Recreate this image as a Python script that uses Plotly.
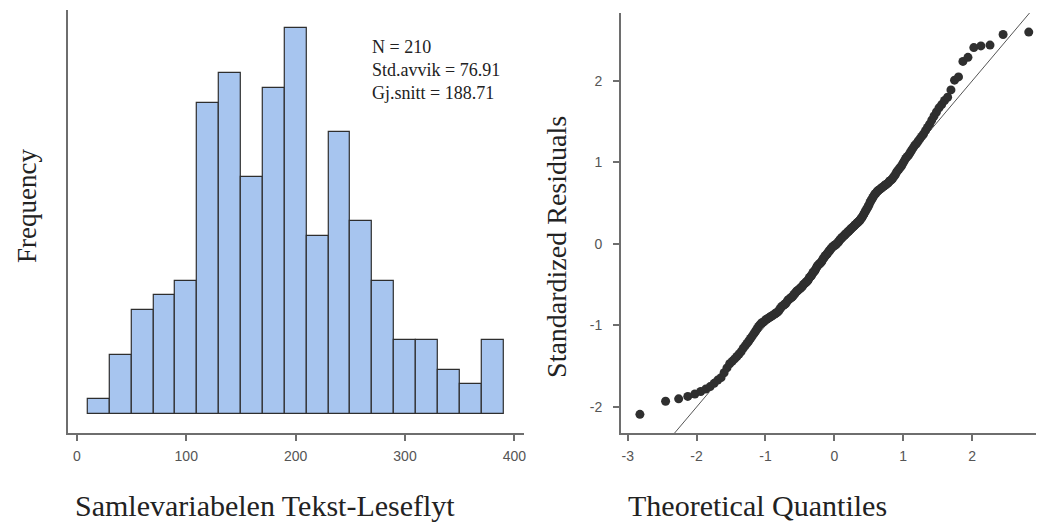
import plotly.graph_objects as go
from statistics import NormalDist

# ---------------- data ----------------
# Histogram of "Samlevariabelen Tekst-Leseflyt" (bins of width 20, from 10 to 390)
bin_centers = [20, 40, 60, 80, 100, 120, 140, 160, 180, 200, 220, 240, 260, 280, 300, 320, 340, 360, 380]
bin_counts = [1, 4, 7, 8, 9, 21, 23, 16, 22, 26, 12, 19, 13, 9, 5, 5, 3, 2, 5]
bin_width = 20
hist_ticks = [0, 100, 200, 300, 400]
hist_ticklabels = ["0", "100", "200", "300", "400"]
stats_lines = ["N = 210", "Std.avvik = 76.91", "Gj.snitt = 188.71"]

# Sorted standardized residuals
residuals = [
    -2.09, -1.93, -1.90, -1.87, -1.84, -1.81, -1.78, -1.75, -1.71, -1.67,
    -1.64, -1.58, -1.52, -1.47, -1.44, -1.41, -1.38, -1.35, -1.32, -1.28,
    -1.25, -1.22, -1.19, -1.16, -1.13, -1.10, -1.07, -1.04, -1.01, -0.99,
    -0.97, -0.96, -0.95, -0.93, -0.92, -0.91, -0.90, -0.89, -0.88, -0.87,
    -0.86, -0.85, -0.84, -0.83, -0.81, -0.79, -0.77, -0.76, -0.75, -0.74,
    -0.73, -0.71, -0.69, -0.68, -0.67, -0.66, -0.65, -0.64, -0.62, -0.61,
    -0.59, -0.58, -0.57, -0.56, -0.55,
    -0.54, -0.53, -0.52, -0.50, -0.49, -0.48, -0.47, -0.46, -0.45, -0.43,
    -0.41, -0.40, -0.39, -0.37, -0.35, -0.34, -0.33, -0.31, -0.29, -0.27,
    -0.26, -0.25, -0.24, -0.23, -0.22, -0.20, -0.18, -0.17, -0.15, -0.14,
    -0.13, -0.12, -0.10, -0.09, -0.08, -0.06, -0.05, -0.04, -0.03, -0.02,
    -0.02, -0.01, 0.00, 0.01, 0.02, 0.03, 0.05, 0.06, 0.07, 0.08,
    0.09, 0.10, 0.11, 0.12, 0.13, 0.14, 0.15, 0.16, 0.17, 0.18,
    0.19, 0.20, 0.21, 0.22, 0.23, 0.24, 0.25, 0.26, 0.27, 0.28,
    0.29, 0.31, 0.32, 0.34, 0.36, 0.38, 0.40, 0.42, 0.44, 0.46,
    0.48, 0.51, 0.53, 0.55, 0.57, 0.59, 0.61, 0.62, 0.64, 0.65,
    0.66, 0.67, 0.68, 0.69, 0.70, 0.71, 0.72, 0.73, 0.74, 0.75,
    0.77, 0.78, 0.79, 0.81, 0.83, 0.85, 0.88, 0.90, 0.92, 0.94,
    0.96, 0.99, 1.02, 1.05, 1.07, 1.09, 1.12, 1.15, 1.18, 1.21,
    1.23, 1.26, 1.29, 1.32, 1.35, 1.39, 1.43, 1.47, 1.52, 1.57,
    1.62, 1.67, 1.71, 1.76, 1.80, 1.89, 2.01, 2.05, 2.24, 2.29,
    2.41, 2.43, 2.44, 2.57, 2.60,
]
qq_ticks = [-3, -2, -1, 0, 1, 2, 3]
qq_ticklabels = ["-3", "-2", "-1", "0", "1", "2", "3"]
res_ticks = [-2, -1, 0, 1, 2]
res_ticklabels = ["-2", "-1", "0", "1", "2"]
ref_slope = 1.0
ref_intercept = 0.0

# theoretical normal quantiles for the sorted residuals
n = len(residuals)
theo_q = [NormalDist().inv_cdf((i - 0.5) / n) for i in range(1, n + 1)]

# ---------------- figure ----------------
# the page body has an 8px margin, so the figure is 8px smaller than the window
OFF = 8
W, H = 1044 - OFF, 525 - OFF


def px(x):
    return (x - OFF) / W


def py(y):
    return 1 - (y - OFF) / H


SERIF = "Liberation Serif, Times New Roman, serif"
SANS = "Liberation Sans, Arial, sans-serif"
AXIS_COL = "#6e6e6e"
TICK_FONT = dict(family=SANS, size=14, color="#555555")

fig = go.Figure()
fig.add_trace(go.Bar(
    x=bin_centers, y=bin_counts, width=bin_width,
    marker=dict(color="#a7c5ef", line=dict(color="#2e2e2e", width=1.2)),
    xaxis="x", yaxis="y", showlegend=False, hoverinfo="x+y",
))

qx_range = [-3.1, 3.015]
fig.add_trace(go.Scatter(
    x=qx_range, y=[ref_intercept + ref_slope * v for v in qx_range],
    mode="lines", line=dict(color="#555555", width=1),
    xaxis="x2", yaxis="y2", showlegend=False, hoverinfo="skip",
))
fig.add_trace(go.Scatter(
    x=theo_q, y=residuals, mode="markers",
    marker=dict(color="#2f2f2f", size=9, line=dict(width=0)),
    xaxis="x2", yaxis="y2", showlegend=False,
))

common = dict(showgrid=False, zeroline=False, showline=True, linecolor=AXIS_COL,
              linewidth=1.5, tickfont=TICK_FONT, tickcolor=AXIS_COL)

fig.update_layout(
    width=W, height=H,
    margin=dict(l=0, r=0, t=0, b=0),
    paper_bgcolor="white", plot_bgcolor="white",
    bargap=0,
    xaxis=dict(domain=[px(68), px(525)], range=[-8.2, 408.8], anchor="y",
               tickmode="array", tickvals=hist_ticks, ticktext=hist_ticklabels,
               ticks="outside", ticklen=6, tickwidth=1.5, ticklabelstandoff=3, **common),
    yaxis=dict(domain=[py(433), py(10)], range=[-1.28, 27.24], anchor="x",
               showticklabels=False, ticks="", **common),
    xaxis2=dict(domain=[px(622), 1.0], range=qx_range, anchor="y2",
                tickmode="array", tickvals=qq_ticks, ticktext=qq_ticklabels,
                ticks="outside", ticklen=6, tickwidth=1.5, ticklabelstandoff=3, **common),
    yaxis2=dict(domain=[py(433), py(13)], range=[-2.319, 2.834], anchor="x2",
                tickmode="array", tickvals=res_ticks, ticktext=res_ticklabels,
                ticks="outside", ticklen=6, tickwidth=1.5, ticklabelstandoff=8, **common),
)

annotations = [
    dict(text="Frequency", x=px(27), y=py(206), textangle=-90,
         font=dict(family=SERIF, size=27, color="#222222")),
    dict(text="Standardized Residuals", x=px(557), y=py(247), textangle=-90,
         font=dict(family=SERIF, size=28, color="#222222")),
    dict(text="Samlevariabelen Tekst-Leseflyt", x=px(265), y=py(505),
         font=dict(family=SERIF, size=30, color="#222222")),
    dict(text="Theoretical Quantiles", x=px(759), y=py(505),
         font=dict(family=SERIF, size=30, color="#222222")),
]
for k, line in enumerate(stats_lines):
    annotations.append(dict(text=line, x=px(371), y=py(47 + 23 * k), xanchor="left",
                            font=dict(family=SERIF, size=18, color="#222222")))
for a in annotations:
    a.setdefault("xanchor", "center")
    a.update(xref="paper", yref="paper", yanchor="middle", showarrow=False)
fig.update_layout(annotations=annotations)

fig.write_html("out.html")
